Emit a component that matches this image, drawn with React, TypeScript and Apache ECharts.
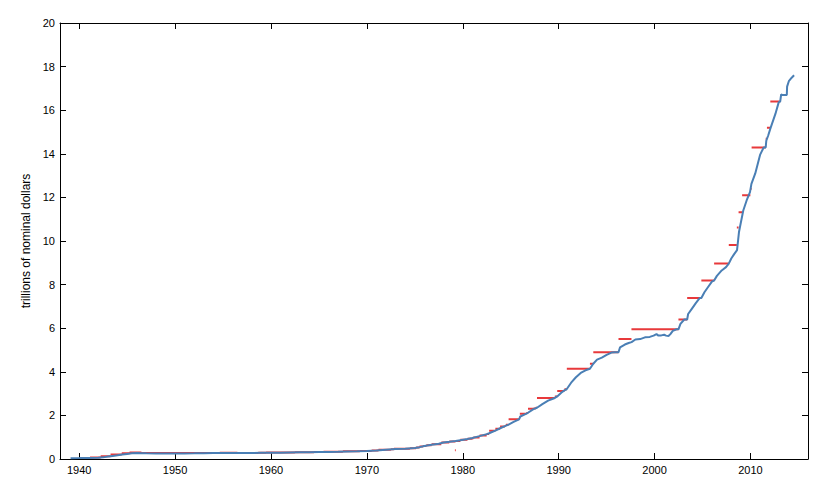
import React, { useEffect, useRef } from 'react';
import * as echarts from 'echarts';

// Total federal debt outstanding (trillions of nominal dollars), by decimal year
const debtYears = [
  1939.1, 1940.0, 1941.0, 1942.0, 1942.5, 1943.0, 1943.5, 1944.0, 1944.5, 1945.0,
  1945.5, 1946.1, 1946.5, 1947.0, 1948.0, 1949.0, 1950.0, 1951.0, 1952.0, 1953.0,
  1954.0, 1955.0, 1956.0, 1957.0, 1958.0, 1959.0, 1960.0, 1961.0, 1962.0, 1963.0,
  1964.0, 1965.0, 1966.0, 1967.0, 1968.0, 1969.0, 1970.0, 1971.0, 1972.0, 1973.0,
  1974.0, 1975.0, 1975.5, 1976.0, 1976.75, 1977.5, 1978.0, 1978.6, 1979.25, 1979.75,
  1980.5, 1981.0, 1981.75, 1982.5, 1982.75, 1983.4, 1983.9, 1984.4, 1984.78, 1985.3,
  1985.87, 1986.0, 1986.64, 1986.8, 1987.37, 1987.74, 1988.3, 1988.9, 1989.6, 1989.85,
  1990.3, 1990.6, 1990.83, 1991.3, 1991.8, 1992.3, 1992.8, 1993.26, 1993.61, 1994.0,
  1994.5, 1995.0, 1995.5, 1995.87, 1996.24, 1996.4, 1996.9, 1997.3, 1997.6, 1998.0,
  1998.5, 1999.0, 1999.5, 1999.9, 2000.2, 2000.4, 2000.7, 2001.0, 2001.2, 2001.45,
  2001.65, 2001.9, 2002.3, 2002.49, 2002.7, 2003.1, 2003.4, 2003.5, 2003.9, 2004.3,
  2004.7, 2004.88, 2005.2, 2005.6, 2006.0, 2006.21, 2006.5, 2007.0, 2007.45, 2007.74,
  2008.0, 2008.3, 2008.6, 2008.8, 2008.9, 2009.25, 2009.6, 2009.95, 2010.1, 2010.5,
  2011.0, 2011.38, 2011.59, 2011.65, 2011.85, 2012.1, 2012.6, 2012.95, 2013.1, 2013.2,
  2013.3, 2013.79, 2013.82, 2014.0, 2014.3, 2014.55,
];
const debtValues = [
  0.040, 0.042, 0.046, 0.058, 0.075, 0.110, 0.140, 0.170, 0.202, 0.232,
  0.260, 0.279, 0.269, 0.259, 0.254, 0.252, 0.257, 0.256, 0.259, 0.267,
  0.275, 0.278, 0.280, 0.276, 0.275, 0.284, 0.290, 0.290, 0.298, 0.304,
  0.310, 0.318, 0.320, 0.329, 0.345, 0.357, 0.370, 0.390, 0.426, 0.456,
  0.472, 0.507, 0.544, 0.598, 0.650, 0.700, 0.760, 0.790, 0.825, 0.865,
  0.915, 0.960, 1.050, 1.140, 1.180, 1.300, 1.410, 1.510, 1.580, 1.700,
  1.820, 1.950, 2.080, 2.120, 2.290, 2.350, 2.520, 2.680, 2.800, 2.870,
  3.050, 3.150, 3.200, 3.500, 3.750, 3.950, 4.070, 4.140, 4.370, 4.560,
  4.650, 4.780, 4.880, 4.900, 4.900, 5.120, 5.250, 5.320, 5.360, 5.480,
  5.500, 5.580, 5.600, 5.660, 5.730, 5.660, 5.670, 5.700, 5.660, 5.640,
  5.730, 5.880, 5.950, 5.950, 6.200, 6.400, 6.400, 6.650, 6.900, 7.150,
  7.380, 7.384, 7.650, 7.900, 8.150, 8.184, 8.400, 8.650, 8.800, 8.965,
  9.200, 9.400, 9.580, 10.400, 10.630, 11.400, 11.860, 12.240, 12.620, 13.100,
  13.950, 14.294, 14.294, 14.600, 14.840, 15.190, 15.830, 16.370, 16.394, 16.720,
  16.699, 16.699, 17.080, 17.330, 17.490, 17.600,
];

// Statutory debt limit (trillions), each in force from start to end
const limitStarts = [
  1940.48, 1941.13, 1942.24, 1943.27, 1944.44, 1945.25, 1946.49, 1954.66, 1956.5, 1957.5,
  1958.15, 1958.67, 1959.49, 1960.5, 1961.5, 1962.2, 1962.5, 1963.25, 1963.41, 1963.5,
  1963.92, 1964.49, 1965.48, 1966.5, 1967.17, 1967.5, 1969.27, 1970.5, 1971.21, 1972.5,
  1972.82, 1973.92, 1974.49, 1975.13, 1975.49, 1975.87, 1976.2, 1976.49, 1976.75, 1977.76,
  1978.59, 1979.25, 1979.75, 1980.49, 1980.97, 1981.1, 1981.75, 1982.49, 1982.75, 1983.4,
  1983.89, 1984.4, 1984.51, 1984.78, 1985.87, 1985.95, 1986.64, 1986.8, 1987.37, 1987.61,
  1987.74, 1989.6, 1989.85, 1990.6, 1990.83, 1990.85, 1993.26, 1993.61, 1996.24, 1997.59,
  2002.49, 2003.4, 2004.88, 2006.21, 2007.74, 2008.58, 2008.76, 2009.13, 2009.99, 2010.12,
  2011.59, 2011.72, 2012.07, 2013.38,
  1977.76, 1978.4, 1979.18,
];
const limitEnds = [
  1941.13, 1942.24, 1943.27, 1944.44, 1945.25, 1946.49, 1954.66, 1956.5, 1957.5, 1958.15,
  1958.67, 1959.49, 1960.5, 1961.5, 1962.2, 1962.5, 1963.25, 1963.41, 1963.5, 1963.92,
  1964.49, 1965.48, 1966.5, 1967.17, 1967.5, 1969.27, 1970.5, 1971.21, 1972.5, 1972.82,
  1973.92, 1974.49, 1975.13, 1975.49, 1975.87, 1976.2, 1976.49, 1976.75, 1977.76, 1978.59,
  1979.25, 1979.75, 1980.49, 1980.97, 1981.1, 1981.75, 1982.49, 1982.75, 1983.4, 1983.89,
  1984.4, 1984.51, 1984.78, 1985.87, 1985.95, 1986.64, 1986.8, 1987.37, 1987.61, 1987.74,
  1989.6, 1989.85, 1990.6, 1990.83, 1990.85, 1993.26, 1993.61, 1996.24, 1997.59, 2002.49,
  2003.4, 2004.88, 2006.21, 2007.74, 2008.58, 2008.76, 2009.13, 2009.99, 2010.12, 2011.59,
  2011.72, 2012.07, 2013.1, 2013.79,
  1977.82, 1978.46, 1979.27,
];
const limitValues = [
  0.049, 0.065, 0.125, 0.210, 0.260, 0.300, 0.275, 0.281, 0.278, 0.275,
  0.280, 0.288, 0.295, 0.293, 0.298, 0.300, 0.308, 0.305, 0.307, 0.309,
  0.315, 0.324, 0.328, 0.330, 0.336, 0.358, 0.365, 0.395, 0.430, 0.450,
  0.465, 0.4757, 0.495, 0.531, 0.577, 0.595, 0.627, 0.636, 0.682, 0.752,
  0.798, 0.830, 0.879, 0.925, 0.9351, 0.985, 1.0798, 1.1431, 1.2902, 1.389,
  1.490, 1.520, 1.573, 1.8238, 1.9038, 2.0787, 2.111, 2.300, 2.320, 2.352,
  2.800, 2.870, 3.1227, 3.195, 3.230, 4.145, 4.370, 4.900, 5.500, 5.950,
  6.400, 7.384, 8.184, 8.965, 9.815, 10.615, 11.315, 12.104, 12.394, 14.294,
  14.694, 15.194, 16.394, 16.699,
  0.400, 0.400, 0.400,
];

const xTickYears = [1940, 1950, 1960, 1970, 1980, 1990, 2000, 2010];
const yAxisName = 'trillions of nominal dollars';

const FONT = 'Liberation Sans, Arial, Helvetica, sans-serif';

export default function App() {
  const ref = useRef<HTMLDivElement>(null);

  useEffect(() => {
    if (!ref.current) return;
    const chart = echarts.init(ref.current, null, { renderer: 'svg' });

    const debtData = debtYears.map((y, i) => [y, debtValues[i]]);
    const limitData: any[] = [];
    limitStarts.forEach((s, i) => {
      limitData.push([s, limitValues[i]]);
      limitData.push([limitEnds[i], limitValues[i]]);
      limitData.push([limitEnds[i], '-']);
    });

    const axisLine = { show: true, onZero: false, lineStyle: { color: '#000', width: 1 } };

    chart.setOption({
      animation: false,
      backgroundColor: '#fff',
      grid: { left: 60, top: 23, right: 11, bottom: 29, containLabel: false },
      xAxis: [
        {
          type: 'value', min: 1938, max: 2016, position: 'bottom',
          axisLine,
          axisTick: { show: true, inside: true, length: 6, customValues: xTickYears, lineStyle: { color: '#000' } },
          axisLabel: {
            customValues: xTickYears, color: '#000', fontSize: 11, fontFamily: FONT, margin: 5,
            formatter: (v: number) => String(Math.round(v)),
          },
          splitLine: { show: false },
        },
        {
          type: 'value', min: 1938, max: 2016, position: 'top',
          axisLine,
          axisTick: { show: true, inside: true, length: 6, customValues: xTickYears, lineStyle: { color: '#000' } },
          axisLabel: { show: false },
          splitLine: { show: false },
        },
      ],
      yAxis: [
        {
          type: 'value', min: 0, max: 20, interval: 2, position: 'left',
          name: yAxisName, nameLocation: 'middle', nameRotate: 90, nameGap: 16,
          nameTextStyle: { color: '#000', fontSize: 12, fontFamily: FONT },
          axisLine,
          axisTick: { show: true, inside: true, length: 6, lineStyle: { color: '#000' } },
          axisLabel: { color: '#000', fontSize: 11, fontFamily: FONT, margin: 5 },
          splitLine: { show: false },
        },
        {
          type: 'value', min: 0, max: 20, interval: 2, position: 'right',
          axisLine,
          axisTick: { show: true, inside: true, length: 6, lineStyle: { color: '#000' } },
          axisLabel: { show: false },
          splitLine: { show: false },
        },
      ],
      series: [
        {
          name: 'debt limit', type: 'line', xAxisIndex: 0, yAxisIndex: 0,
          data: limitData, showSymbol: false, symbol: 'none', connectNulls: false,
          lineStyle: { color: '#e8393b', width: 2 }, z: 2,
        },
        {
          name: 'debt', type: 'line', xAxisIndex: 0, yAxisIndex: 0,
          data: debtData, showSymbol: false, symbol: 'none',
          lineStyle: { color: '#4a7fb5', width: 2 }, z: 3,
        },
      ],
    });

    return () => chart.dispose();
  }, []);

  return (
    <div
      ref={ref}
      style={{ position: 'fixed', left: 0, top: 0, width: 819, height: 488, background: '#fff' }}
    />
  );
}
